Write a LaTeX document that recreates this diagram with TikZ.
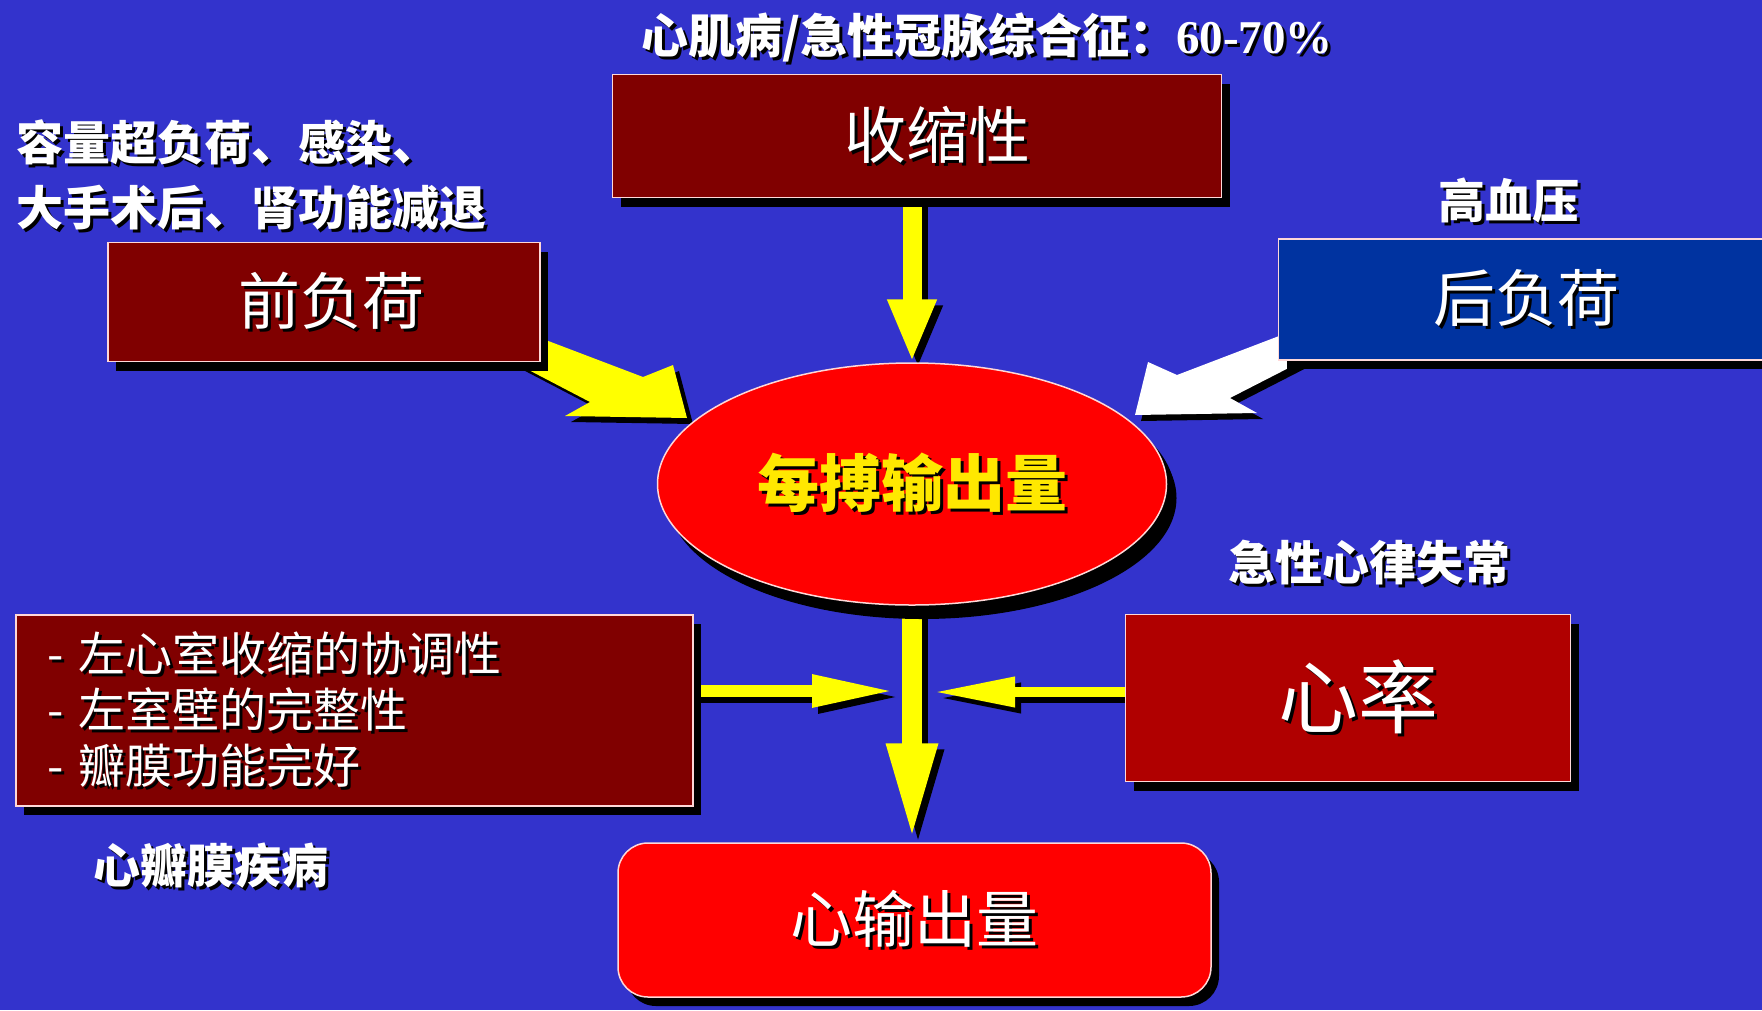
\documentclass[tikz,border=0pt]{standalone}
\usepackage{fontspec}
\setmainfont{Liberation Serif}
\newfontfamily\cjk{Noto Sans CJK SC}
\usetikzlibrary{shapes.geometric,shadows,arrows.meta,calc}
\pgfdeclarelayer{bg}
\pgfdeclarelayer{arr}
\pgfsetlayers{bg,arr,main}
\definecolor{bgblue}{HTML}{3333CC}
\definecolor{dred}{HTML}{800000}
\definecolor{mred}{HTML}{B00000}
\definecolor{bred}{HTML}{FF0000}
\definecolor{dblue}{HTML}{0033A0}
\definecolor{edgec}{HTML}{FFD8D8}
\definecolor{yel}{HTML}{FFFF00}
\definecolor{goldt}{HTML}{FFE800}
\newcommand{\shtxt}[2][black]{\leavevmode\rlap{\kern3pt\raisebox{-3pt}{\textcolor{#1}{#2}}}#2}
\newcommand{\fsz}[1]{\fontsize{#1pt}{#1pt}\selectfont}
% all connectors; #1 = colour of yellow arrows, #2 = colour of white arrow
\newcommand{\allarrows}[2]{%
  \draw[draw=#1, line width=19pt, -{Triangle[length=63pt,width=45pt]}] (sx.south -| sv.north) -- (sv.north);
  \draw[draw=#1, line width=20pt, -{Triangle[length=99pt,width=46pt]}] (sv.south) -- (co.north -| sv.south);
  \draw[draw=#1, line width=12pt, -{Triangle[length=83pt,width=30pt]}] (lb.east |- jl) -- (jl);
  \draw[draw=#1, line width=10pt, -{Triangle[length=82pt,width=28pt]}] (hr.west |- jr) -- (jr);
  \fill[#1] (yt) -- ($(yt)+(-14,-53)$) -- ($(yt)+(-44,-41)$) -- ($(yt)+(-165,-87)$)
     -- ($(yt)+(-187,-63)$) -- ($(yt)+(-97,-16)$) -- ($(yt)+(-122,-2)$) -- cycle;
  \fill[#2] (wt) -- ($(wt)+(13,-53)$) -- ($(wt)+(42,-40)$) -- ($(wt)+(165,-87)$)
     -- ($(wt)+(175,-58)$) -- ($(wt)+(95,-17)$) -- ($(wt)+(122,-2)$) -- cycle;
}
\begin{document}
\begin{tikzpicture}[x=1pt,y=-1pt,
  panel/.style={draw=edgec, line width=1.5pt, inner sep=0pt, text=white,
    drop shadow={fill=black, opacity=1, shadow xshift=8pt, shadow yshift=-9pt}},
  note/.style={text=white, inner sep=0pt, font=\cjk\bfseries\fsz{47}},
  big/.style={font=\cjk\fsz{62}}
]
\useasboundingbox (0,0) rectangle (1762,1010);
\begin{pgfonlayer}{bg}
\fill[bgblue] (0,0) rectangle (1762,1010);
\end{pgfonlayer}

% title and notes
\node[note] (t1) at (987,39) {\shtxt{{\cjk\bfseries 心肌病/急性冠脉综合征：}{\rmfamily\bfseries 60-70\%}}};
\node[note, anchor=west] (n1) at (16,144) {\shtxt{容量超负荷、感染、}};
\node[note, anchor=west] (n2) at (16,209) {\shtxt{大手术后、肾功能减退}};
\node[note] (gx) at (1509,202) {\shtxt{高血压}};
\node[note] (xl) at (1369,564) {\shtxt{急性心律失常}};
\node[note] (xb) at (211,867) {\shtxt{心瓣膜疾病}};

% boxes
\node[panel, big, fill=dred, minimum width=609pt, minimum height=123pt] (sx) at (917,136) {\hspace*{40pt}\shtxt{收缩性}};
\node[panel, big, fill=dred, minimum width=432pt, minimum height=119pt] (qf) at (324,302) {\hspace*{14pt}\shtxt{前负荷}};
\node[panel, big, fill=dblue, minimum width=495pt, minimum height=121pt] (hf) at (1526,299.5) {\shtxt{后负荷}};
\node[panel, font=\cjk\bfseries\fsz{62}, fill=bred, ellipse, minimum width=509pt, minimum height=242pt, text=goldt,
  drop shadow={fill=black, opacity=1, shadow xshift=10pt, shadow yshift=-14pt}] (sv) at (912,484) {\shtxt{每搏输出量}};
\node[panel, fill=mred, font=\cjk\fsz{80}, minimum width=445pt, minimum height=167pt] (hr) at (1348,698) {\hspace*{20pt}\shtxt{心率}};
\node[panel, fill=dred, font=\cjk\fontsize{47pt}{56pt}\selectfont, minimum width=677pt, minimum height=191pt,
  text width=615pt, inner xsep=31pt, align=left] (lb) at (354.5,710.5)
  {\shtxt{- 左心室收缩的协调性}\\ \shtxt{- 左室壁的完整性}\\ \shtxt{- 瓣膜功能完好}};
\node[panel, big, fill=bred, rounded corners=30pt, minimum width=593pt, minimum height=154pt] (co) at (914.5,920) {\shtxt{心输出量}};

% connector end points
\coordinate (jl) at (895,691);
\coordinate (jr) at (933,692);
\coordinate (yt) at (687,418);
\coordinate (wt) at (1135,415);

\begin{pgfonlayer}{arr}
\begin{scope}[transform canvas={shift={(6pt,-6pt)}}]
  \allarrows{black}{black}
\end{scope}
\allarrows{yel}{white}
\end{pgfonlayer}
\end{tikzpicture}
\end{document}
